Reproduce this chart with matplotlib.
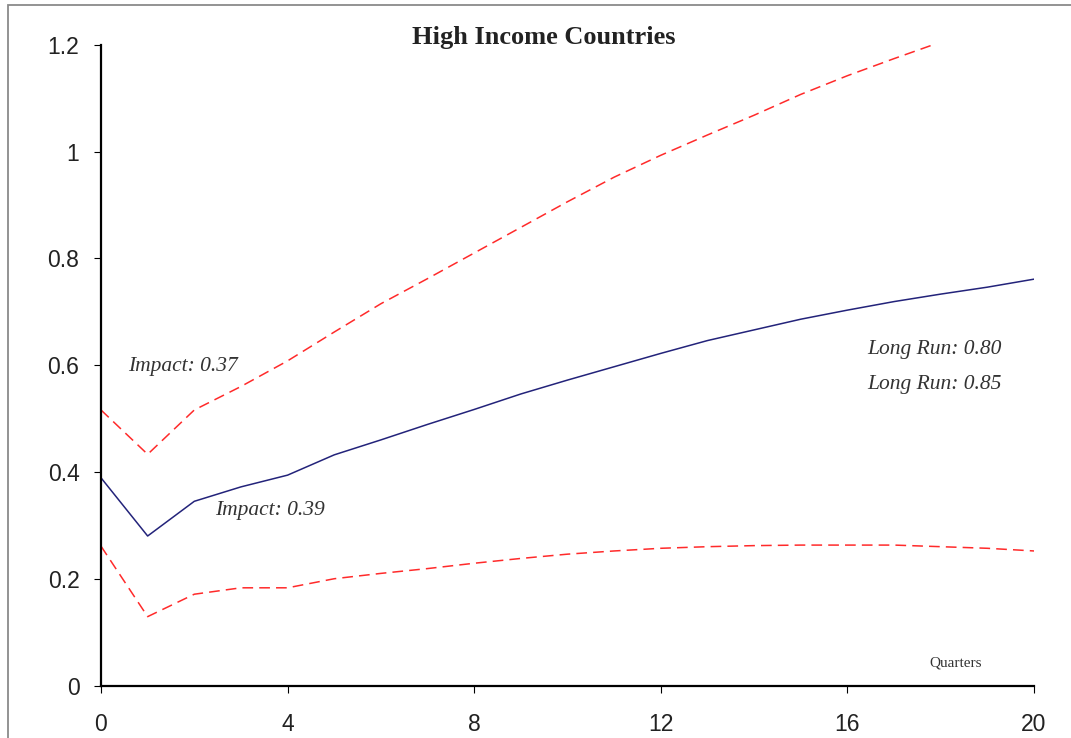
import matplotlib
matplotlib.use("Agg")
import matplotlib.pyplot as plt
from matplotlib.patches import Rectangle

quarters = list(range(21))
point_estimate = [0.389, 0.280, 0.345, 0.372, 0.394, 0.432, 0.460, 0.489, 0.517, 0.546,
                  0.572, 0.597, 0.622, 0.646, 0.666, 0.686, 0.703, 0.719, 0.733, 0.746, 0.761]
upper_band = [0.516, 0.433, 0.516, 0.560, 0.608, 0.662, 0.715, 0.762, 0.810, 0.858,
              0.906, 0.952, 0.993, 1.031, 1.068, 1.107, 1.142, 1.174, 1.205, 1.232, 1.258]
lower_band = [0.261, 0.129, 0.171, 0.183, 0.183, 0.200, 0.210, 0.219, 0.229, 0.238,
              0.246, 0.252, 0.257, 0.260, 0.262, 0.263, 0.263, 0.263, 0.260, 0.257, 0.252]
x_ticks = [0, 4, 8, 12, 16, 20]
y_ticks = [0, 0.2, 0.4, 0.6, 0.8, 1.0, 1.2]
y_tick_labels = ["0", "0.2", "0.4", "0.6", "0.8", "1", "1.2"]

fig = plt.figure(figsize=(10.71, 7.38), dpi=100)
ax = fig.add_axes([0.0943, 0.0711, 0.8712, 0.8683])

# outer gray frame (cut off at right/bottom like reference)
fig.patches.append(Rectangle((8 / 1071, -0.05), 1.2, 1 - 5.5 / 738 + 0.05,
                             transform=fig.transFigure, fill=False,
                             edgecolor="#8a8a8a", linewidth=1.3, zorder=0))

red = "#FF2A2A"
navy = "#23237A"
ax.plot(quarters, upper_band, color=red, lw=1.1, dashes=(7, 4))
ax.plot(quarters, lower_band, color=red, lw=1.1, dashes=(7, 4))
ax.plot(quarters, point_estimate, color=navy, lw=1.1)

ax.set_xlim(0, 20)
ax.set_ylim(0, 1.2)
ax.set_xticks(x_ticks)
ax.set_xticklabels([str(t) for t in x_ticks])
ax.set_yticks(y_ticks)
ax.set_yticklabels(y_tick_labels)

for s in ["top", "right"]:
    ax.spines[s].set_visible(False)
for s in ["left", "bottom"]:
    ax.spines[s].set_linewidth(1.6)
    ax.spines[s].set_color("black")

ax.tick_params(axis="both", direction="out", length=5, width=0.8, colors="black",
               labelcolor="#222222", labelsize=16.5)
ax.tick_params(axis="x", pad=15)
ax.tick_params(axis="y", pad=10.5)
for lbl in ax.get_xticklabels() + ax.get_yticklabels():
    lbl.set_family(["Liberation Sans", "DejaVu Sans"])

serif = ["Liberation Serif", "DejaVu Serif"]
ax.text(0.475, 1.0105, "High Income Countries", transform=ax.transAxes, ha="center",
        va="center", fontsize=19, fontweight="bold", family=serif, color="#222222")
ax.text(0.58, 0.597, "Impact: 0.37", ha="left", va="center", fontsize=15.5,
        style="italic", family=serif, color="#333333")
ax.text(2.44, 0.328, "Impact: 0.39", ha="left", va="center", fontsize=15.5,
        style="italic", family=serif, color="#333333")
ax.text(19.3, 0.630, "Long Run: 0.80", ha="right", va="center", fontsize=15.5,
        style="italic", family=serif, color="#333333")
ax.text(19.3, 0.563, "Long Run: 0.85", ha="right", va="center", fontsize=15.5,
        style="italic", family=serif, color="#333333")
ax.text(18.32, 0.043, "Quarters", ha="center", va="center", fontsize=11,
        family=serif, color="#333333")

fig.savefig("out.png", dpi=100)
